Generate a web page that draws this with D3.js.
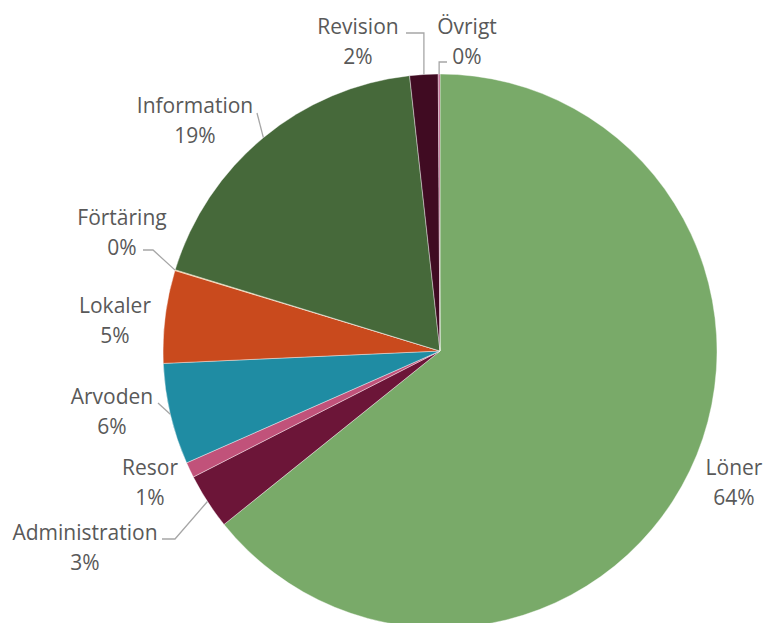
<!DOCTYPE html>
<html>
<head>
<meta charset="utf-8">
<script src="https://cdn.jsdelivr.net/npm/d3@7"></script>
<style>
  html, body { margin: 0; padding: 0; background: #fff; }
  svg { display: block; }
  text { font-family: "Open Sans", Lato, sans-serif; fill: #595959; }
</style>
</head>
<body>
<svg id="chart" width="763" height="623"></svg>
<script>
// ---- data ----
const categories = ["Löner", "Administration", "Resor", "Arvoden", "Lokaler", "Förtäring", "Information", "Revision", "Övrigt"];
const values = [64.2, 3.25, 0.9, 5.9, 5.4, 0.05, 18.5, 1.65, 0.1];
const colors = ["#79AA69", "#6C1538", "#C1527A", "#1F8CA3", "#C94A1D", "#E8A33A", "#46693A", "#400B22", "#B85A86"];

// ---- layout (label placement, not data) ----
const labelLayout = {
  "Löner":          { x: 734, y: 475, line: null },
  "Administration": { x: 85,  y: 540, line: [[162, 539], [175, 539]] },
  "Resor":          { x: 150, y: 475, line: null },
  "Arvoden":        { x: 112, y: 404, line: [[158, 403]] },
  "Lokaler":        { x: 115, y: 313, line: null },
  "Förtäring":      { x: 122, y: 225, line: [[143, 250], [153, 250]] },
  "Information":    { x: 195, y: 113, line: [[257, 113]] },
  "Revision":       { x: 358, y: 34,  line: [[406, 33], [423, 33]] },
  "Övrigt":         { x: 467, y: 34,  line: [[447, 62], [439, 62]] }
};

const cx = 440, cy = 351, R = 277;
const svg = d3.select("#chart");
const g = svg.append("g").attr("transform", `translate(${cx},${cy})`);

const data = categories.map((c, i) => ({ name: c, value: values[i], color: colors[i] }));
const total = d3.sum(values);
const pie = d3.pie().sort(null).value(d => d.value);
const arcs = pie(data);
const arc = d3.arc().innerRadius(0).outerRadius(R);

g.selectAll("path.slice").data(arcs).join("path")
  .attr("class", "slice")
  .attr("d", arc)
  .attr("fill", d => d.data.color)
  .attr("stroke", "#fff")
  .attr("stroke-width", 0.4);

// leader lines
const lineGen = d3.line();
arcs.forEach(a => {
  const L = labelLayout[a.data.name];
  if (!L.line) return;
  const mid = (a.startAngle + a.endAngle) / 2;
  const px = cx + R * Math.sin(mid), py = cy - R * Math.cos(mid);
  const pts = L.line.map(p => p.slice());
  if (a.data.name === "Revision" || a.data.name === "Övrigt") {
    pts[pts.length - 1][0] = px;
  }
  pts.push([px, py]);
  svg.append("path")
    .attr("d", lineGen(pts))
    .attr("fill", "none")
    .attr("stroke", "#A6A6A6")
    .attr("stroke-width", 1.3);
});

// labels
arcs.forEach(a => {
  const L = labelLayout[a.data.name];
  const t = svg.append("text")
    .attr("text-anchor", "middle")
    .attr("font-size", 21);
  t.append("tspan").attr("x", L.x).attr("y", L.y).text(a.data.name);
  t.append("tspan").attr("x", L.x).attr("y", L.y + 30)
    .text(Math.round(a.data.value / total * 100) + "%");
});
</script>
</body>
</html>
